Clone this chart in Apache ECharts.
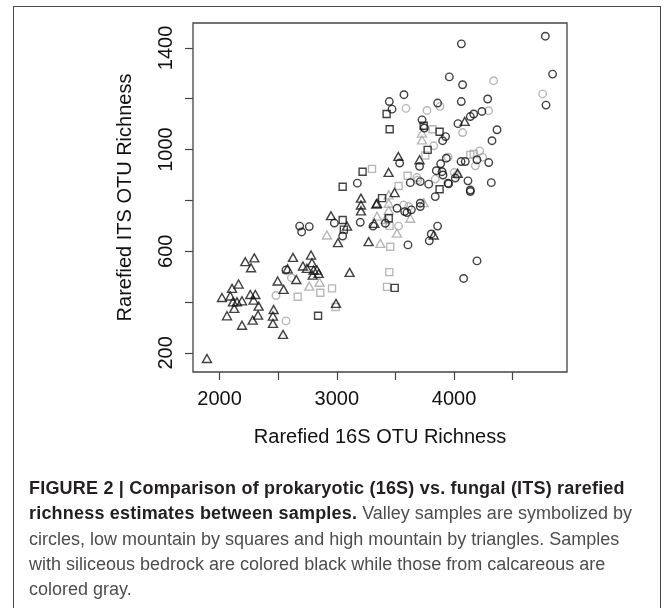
<!DOCTYPE html>
<html>
<head>
<meta charset="utf-8">
<script src="https://cdn.jsdelivr.net/npm/echarts@6/dist/echarts.min.js"></script>
<style>
  body { margin: 0; background: #fff; width: 669px; height: 608px; overflow: hidden; position: relative; }
  .frame { position: absolute; left: 13px; top: 6px; width: 648px; height: 640px; border: 1.5px solid #4a4a4a; box-sizing: border-box; }
  #chart { position: absolute; left: 0; top: 0; width: 669px; height: 608px; }
  .caption {
    position: absolute; left: 29px; top: 476px;
    font-family: "Liberation Sans", Arial, sans-serif; font-size: 18px; line-height: 25.3px;
    color: #4d4d4d; white-space: nowrap;
  }
  .caption b { color: #231f20; letter-spacing: 0.2px; }
</style>
</head>
<body>
<div class="frame"></div>
<div id="chart"></div>
<div class="caption">
  <b>FIGURE 2 | Comparison of prokaryotic (16S) vs. fungal (ITS) rarefied</b><br>
  <b>richness estimates between samples.</b> Valley samples are symbolized by<br>
  circles, low mountain by squares and high mountain by triangles. Samples<br>
  with siliceous bedrock are colored black while those from calcareous are<br>
  colored gray.
</div>
<script>
// [16S richness, ITS richness]
// valley = circles, low mountain = squares, high mountain = triangles
// black = siliceous bedrock, gray = calcareous
const valleySiliceous = [
  [4779, 1446], [4063, 1416], [4841, 1297], [3960, 1286], [4073, 1255], [4785, 1175],
  [3573, 1216], [3448, 1189], [3471, 1159], [3860, 1183], [4062, 1189], [4287, 1199],
  [4238, 1150], [4168, 1140], [4139, 1130], [4034, 1102], [4367, 1078], [4324, 1035],
  [3727, 1117], [3747, 1085], [3928, 1051], [3903, 1035], [3536, 947], [3706, 934],
  [3934, 966], [3886, 944], [3849, 917], [3898, 913], [3906, 900], [4060, 953],
  [4096, 953], [4196, 960], [4296, 949], [4318, 870], [4119, 877], [4139, 841],
  [4011, 888], [3949, 868], [3784, 864], [3712, 874], [3627, 870], [3175, 868],
  [2683, 699], [2700, 676], [2765, 697], [2979, 711], [3200, 714], [3309, 699],
  [2566, 526], [3050, 660], [4196, 562], [4082, 493], [3607, 625], [3789, 641],
  [3806, 668], [3860, 699], [3840, 815], [4139, 835], [3712, 789], [3712, 776],
  [3636, 763], [3599, 752], [3514, 769], [3579, 756], [3414, 710], [3954, 865]
];
const valleyCalcareous = [
  [4338, 1271], [4756, 1219], [3590, 1162], [3769, 1154], [3880, 1170], [4295, 1153],
  [4073, 1067], [3827, 1015], [4002, 910], [4219, 995], [4182, 936], [4244, 970],
  [3684, 890], [3840, 884], [3690, 880], [3527, 699], [3570, 782], [3613, 776],
  [2481, 426], [2566, 326], [2612, 496], [3950, 970], [4025, 900]
];
const lowSiliceous = [
  [3220, 913], [3050, 854], [3425, 1140], [3451, 1080], [3741, 1094], [3877, 1070],
  [3775, 999], [3877, 844], [3386, 809], [3050, 723], [3060, 685], [2840, 346],
  [3494, 456], [3443, 730]
];
const lowCalcareous = [
  [3300, 924], [3817, 1080], [3755, 977], [4139, 979], [4168, 983], [3604, 897],
  [3527, 857], [2666, 421], [2859, 437], [2959, 454], [2990, 381], [3448, 518],
  [3428, 460], [3456, 618], [3450, 700]
];
const highSiliceous = [
  [3442, 910], [3525, 973], [3706, 960], [4091, 1111], [4031, 907], [1892, 178],
  [2541, 273], [2020, 418], [2063, 346], [2106, 454], [2162, 471], [2091, 424],
  [2114, 401], [2125, 375], [2148, 401], [2191, 405], [2191, 309], [2262, 430],
  [2305, 430], [2290, 408], [2333, 384], [2328, 349], [2282, 329], [2219, 559],
  [2296, 574], [2268, 535], [2461, 371], [2455, 345], [2455, 316], [2495, 483],
  [2546, 450], [2580, 531], [2626, 576], [2654, 489], [2711, 542], [2745, 533],
  [2780, 585], [2788, 555], [2802, 526], [2831, 526], [2794, 506], [2845, 513],
  [2993, 395], [3109, 517], [2950, 740], [3087, 699], [3010, 634], [3206, 809],
  [3206, 782], [3206, 759], [3337, 786], [3271, 638], [3827, 664], [3493, 831],
  [3343, 789], [3320, 710]
];
const highCalcareous = [
  [3727, 1065], [3727, 1038], [2916, 664], [2765, 463], [2853, 478], [3371, 631],
  [3513, 671], [3627, 730], [3741, 791], [3443, 789], [3343, 738], [3414, 725],
  [3443, 822], [3443, 762]
];

const xTicks = [2000, 2500, 3000, 3500, 4000, 4500];
const xLabels = [2000, 3000, 4000];
const yTicks = [200, 400, 600, 800, 1000, 1200, 1400];
const yLabels = [200, 600, 1000, 1400];

const black = "#111";
const gray = "#a6a6a6";

function pts(name, data, symbol, size, color) {
  return {
    name: name,
    type: "scatter",
    data: data,
    symbol: symbol,
    symbolSize: size,
    itemStyle: { color: "rgba(0,0,0,0)", borderColor: color, borderWidth: 1.4 }
  };
}

// plain numbers like R, no thousands separator
const plain = v => String(v);

let myChart = echarts.init(document.getElementById("chart"));
myChart.setOption({
  animation: false,
  grid: {
    left: 193, right: 102, top: 23, bottom: 236,
    show: true, borderColor: "#444", borderWidth: 1.3,
    outerBoundsMode: "none"
  },
  xAxis: {
    type: "value",
    min: 1773, max: 4964,
    name: "Rarefied 16S OTU Richness",
    nameLocation: "middle",
    nameGap: 55,
    nameTextStyle: { fontSize: 20, color: "#111", fontFamily: "Liberation Sans" },
    axisLine: { show: false },
    axisTick: { show: true, length: 8, customValues: xTicks, lineStyle: { color: "#444", width: 1.2 } },
    axisLabel: { customValues: xLabels, formatter: plain, margin: 17, fontSize: 20, color: "#111", fontFamily: "Liberation Sans" },
    splitLine: { show: false }
  },
  yAxis: {
    type: "value",
    min: 125, max: 1498,
    name: "Rarefied ITS OTU Richness",
    nameLocation: "middle",
    nameGap: 58,
    nameTextStyle: { fontSize: 20, color: "#111", fontFamily: "Liberation Sans" },
    axisLine: { show: false },
    axisTick: { show: true, length: 8, customValues: yTicks, lineStyle: { color: "#444", width: 1.2 } },
    axisLabel: { customValues: yLabels, formatter: plain, rotate: 90, margin: 17, fontSize: 20, color: "#111", fontFamily: "Liberation Sans" },
    splitLine: { show: false }
  },
  series: [
    pts("valley calcareous", valleyCalcareous, "circle", 7.5, gray),
    pts("low calcareous", lowCalcareous, "rect", 7, gray),
    pts("high calcareous", highCalcareous, "triangle", [9, 8], gray),
    pts("valley siliceous", valleySiliceous, "circle", 7.5, black),
    pts("low siliceous", lowSiliceous, "rect", 7, black),
    pts("high siliceous", highSiliceous, "triangle", [9, 8], black)
  ]
});
</script>
</body>
</html>
